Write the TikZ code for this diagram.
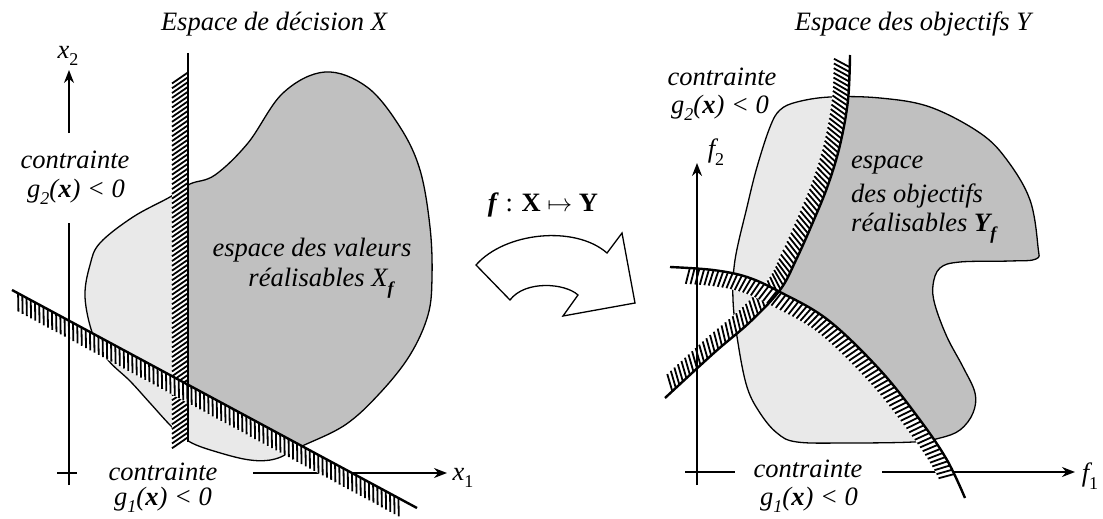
\documentclass[tikz,border=0pt]{standalone}
\usepackage{fontspec}
\setmainfont{Liberation Serif}
\usetikzlibrary{arrows.meta,decorations.markings}
\definecolor{darkfill}{RGB}{192,192,192}
\definecolor{lightfill}{RGB}{233,233,233}
\newcommand\subx[1]{\raisebox{-0.28em}{\fontsize{18}{20}\selectfont #1}}
\tikzset{
  txt/.style={font=\fontsize{26.5}{30}\selectfont\itshape, inner sep=0pt},
  axisline/.style={line width=1.5pt},
  axisarrow/.style={line width=1.5pt, -{Stealth[length=13pt,width=10pt]}},
  outline/.style={line width=1.3pt},
  cline/.style={line width=2.4pt},
  hatchband/.style n args={4}{
    postaction={decorate, decoration={markings,
      mark=between positions #1 and #2 step 2.5pt with {\fill[white] (-1.6pt,0pt) rectangle (1.6pt,#4pt);}}},
    postaction={decorate, decoration={markings,
      mark=between positions #1 and #2 step 4.8pt with {\draw[line width=1.8pt] (0pt,0pt) -- (#3pt,#4pt);}}}
  }
}
\begin{document}
\begin{tikzpicture}[x=1pt,y=-1pt]
\useasboundingbox (0,0) rectangle (1103,519);

% ---------- left panel: feasible set ----------
\path[save path=\leftblob] plot[smooth cycle, tension=0.6] coordinates {
 (325,72) (367,87) (400,127) (420,170) (430,227) (432,277) (428,315) (410,355)
 (380,393) (345,425) (300,447) (275,459) (250,460) (217,452) (190,442) (172,427)
 (150,403) (130,381) (108,360) (93,335) (85,297) (90,265) (100,243) (133,217)
 (170,197) (190,184) (215,175) (248,143) (283,93)};
\path[fill=lightfill, use path=\leftblob];
\begin{scope}
  \clip (188,0) -- (520,0) -- (520,563.5) -- (188,384.7) -- cycle;
  \path[fill=darkfill, use path=\leftblob];
\end{scope}
\path[draw, outline, use path=\leftblob];

% horizontal axis (left)
\coordinate (lhA) at (57,473);
\coordinate (lhB) at (77,473);
\coordinate (lhC) at (253,473);
\coordinate (lhT) at (447,473);
\draw[axisline] (lhA) -- (lhB);
\draw[axisarrow] (lhC) -- (lhT);

% constraints (left)
\coordinate (vT) at (188,53);
\coordinate (vB) at (188,442);
\coordinate (dA) at (12,290);
\coordinate (dB) at (417,508);
\path[hatchband={0.05}{0.995}{11}{-16}] (vT) -- (vB);
\path[hatchband={0.015}{0.955}{9}{-16}] (dA) -- (dB);
\draw[cline] (vT) -- (vB);
\draw[cline] (dA) -- (dB);

% vertical axis (left)
\coordinate (lvB) at (69,485);
\coordinate (lvM) at (69,223);
\coordinate (lvU) at (69,133);
\coordinate (lvT) at (69,70);
\draw[axisline] (lvB) -- (lvM);
\draw[axisarrow] (lvU) -- (lvT);

% ---------- right panel ----------
\path[save path=\rightblob] plot[smooth cycle, tension=0.6] coordinates {
 (797,102) (830,97) (880,98) (930,107) (980,133) (1007,160) (1030,200) (1038,247)
 (1036,259) (1010,261) (960,262) (940,268) (933,285) (935,305) (947,337) (963,367)
 (975,393) (973,413) (960,430) (940,438) (913,442) (847,443) (797,442) (777,433)
 (760,413) (747,387) (738,343) (733,300) (735,260) (747,207) (757,167) (770,127)
 (780,110)};
\path[fill=lightfill, use path=\rightblob];
\begin{scope}
  \clip (847,0) -- (847,55) -- (845,100) -- (837,145) -- (825,185) -- (810,222)
    -- (793,260) -- (777,290) -- (778,294) -- (828,323) -- (879,373) -- (919,423)
    -- (946,463) -- (964,501) -- (1103,519) -- (1103,0) -- cycle;
  \path[fill=darkfill, use path=\rightblob];
\end{scope}
\path[draw, outline, use path=\rightblob];

% horizontal axis (right)
\coordinate (rhA) at (685,472);
\coordinate (rhB) at (735,472);
\coordinate (rhC) at (882,472);
\coordinate (rhT) at (1075,472);
\draw[axisline] (rhA) -- (rhB);
\draw[axisarrow] (rhC) -- (rhT);

% constraints (right)
\path[hatchband={0.03}{0.985}{-8}{-16}] plot[smooth, tension=0.6] coordinates {
 (850,55) (848,100) (840,145) (828,185) (813,222) (796,260) (780,290) (750,322)
 (715,352) (665,398)};
\path[hatchband={0.05}{0.94}{-3}{-16}] plot[smooth, tension=0.6] coordinates {
 (670,267) (713,270) (747,277) (780,292) (828,320) (880,370) (920,420) (947,460)
 (965,498)};
\draw[cline] plot[smooth, tension=0.6] coordinates {
 (850,55) (848,100) (840,145) (828,185) (813,222) (796,260) (780,290) (750,322)
 (715,352) (665,398)};
\draw[cline] plot[smooth, tension=0.6] coordinates {
 (670,267) (713,270) (747,277) (780,292) (828,320) (880,370) (920,420) (947,460)
 (965,498)};

% vertical axis (right)
\coordinate (rvB) at (697,485);
\coordinate (rvT) at (697,163);
\draw[axisarrow] (rvB) -- (rvT);

% ---------- mapping arrow ----------
\coordinate (aA) at (476,265);
\coordinate (aB) at (607,253);
\coordinate (aC) at (622,233);
\coordinate (aD) at (635,303);
\coordinate (aE) at (563,316);
\coordinate (aF) at (578,295);
\coordinate (aG) at (510,300);
\draw[outline, fill=white, line join=miter] (aA) .. controls (505,232) and (575,225) .. (aB)
  -- (aC) -- (aD) -- (aE) -- (aF) .. controls (565,283) and (525,280) .. (aG) -- cycle;

% ---------- texts ----------
\node[txt] (tX) at (274,24) {Espace de décision X};
\node[txt] (tY) at (913,24) {Espace des objectifs Y};
\node[txt] (lx2) at (68,56) {x\subx{\textup{2}}};
\node[txt] (lx1) at (463,478) {x\subx{\textup{1}}};
\node[txt] (lf2) at (716,152) {f\subx{\textup{2}}};
\node[txt] (lf1) at (1090,476) {f\subx{\textup{1}}};
\node[txt] (c2l) at (75,160) {contrainte};
\node[txt] (g2l) at (76,192) {g\subx{2}(\textbf{x}) < 0};
\node[txt] (c1l) at (163,472) {contrainte};
\node[txt] (g1l) at (163,500) {g\subx{1}(\textbf{x}) < 0};
\node[txt] (c2r) at (722,77) {contrainte};
\node[txt] (g2r) at (720,108) {g\subx{2}(\textbf{x}) < 0};
\node[txt] (c1r) at (808,469) {contrainte};
\node[txt] (g1r) at (809,500) {g\subx{1}(\textbf{x}) < 0};
\node[txt] (xf1) at (312,250) {espace des valeurs};
\node[txt] (xf2) at (321,283) {réalisables X\subx{\textbf{f}}};
\node[txt, anchor=west] (yf1) at (851,165) {espace};
\node[txt, anchor=west] (yf2) at (851,196) {des objectifs};
\node[txt, anchor=west] (yf3) at (851,228) {réalisables \textbf{Y}\subx{\textbf{f}}};
\node[txt, font=\fontsize{26.5}{30}\selectfont] (map) at (543,205)
  {\textbf{\textit{f}} : \textbf{X} $\mapsto$ \textbf{Y}};
\end{tikzpicture}
\end{document}
